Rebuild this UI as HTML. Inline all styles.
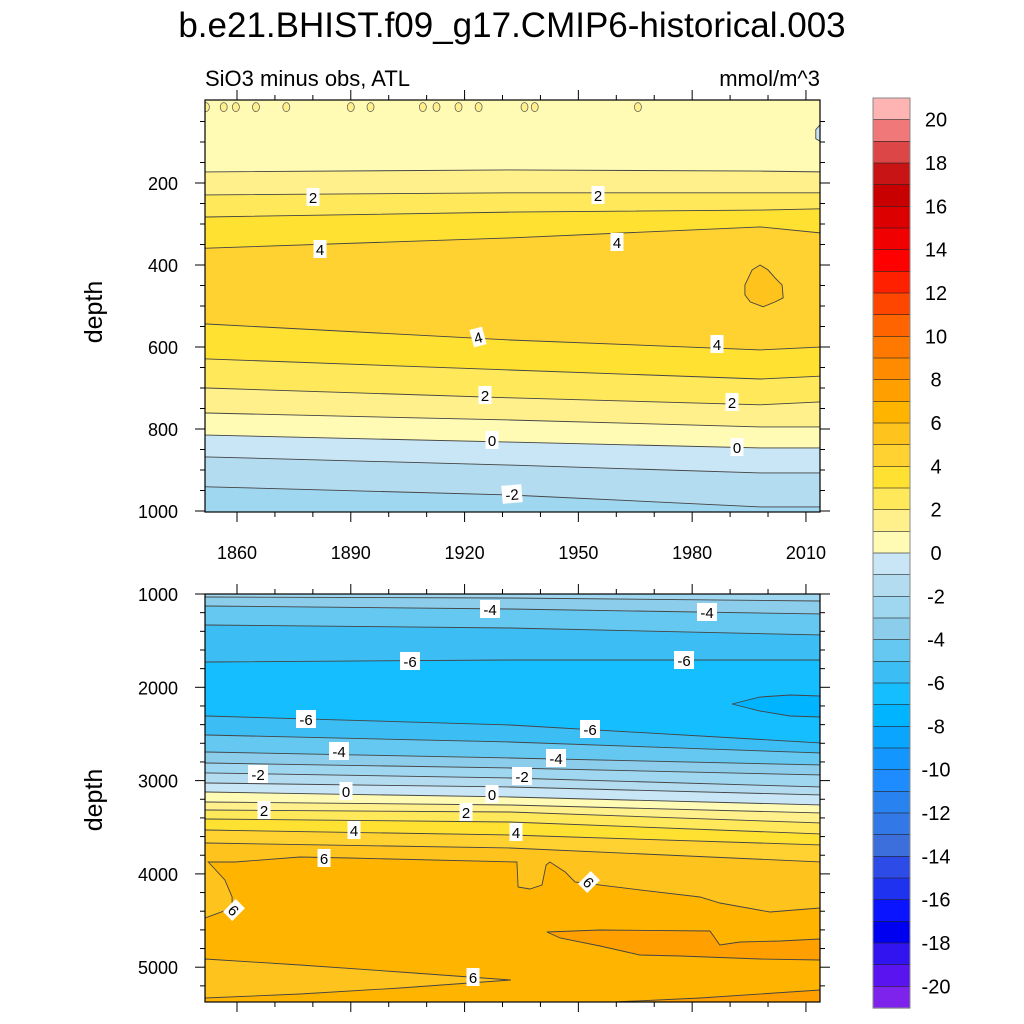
<!DOCTYPE html>
<html><head><meta charset="utf-8"><style>
body{margin:0;background:#fff;}
svg{display:block;font-family:"Liberation Sans",sans-serif;}
</style></head><body>
<svg id="chart" width="1024" height="1024" viewBox="0 0 1024 1024">
<defs>
<clipPath id="clipTop"><rect x="205" y="100" width="615" height="412"/></clipPath>
<clipPath id="clipBot"><rect x="205" y="594" width="615" height="408"/></clipPath>
</defs>
<text x="512" y="37" text-anchor="middle" font-size="35">b.e21.BHIST.f09_g17.CMIP6-historical.003</text>
<text x="205" y="86" font-size="22">SiO3 minus obs, ATL</text>
<text x="820" y="86" font-size="22" text-anchor="end">mmol/m^3</text>
<g id="topFill" clip-path="url(#clipTop)"></g>
<g id="botFill" clip-path="url(#clipBot)"></g>
<g id="labels"></g>
<g id="axes"></g>
<g id="cbar"></g>
<text transform="translate(102,312) rotate(-90)" text-anchor="middle" font-size="25">depth</text>
<text transform="translate(102,800) rotate(-90)" text-anchor="middle" font-size="25">depth</text>
</svg>
<script>
const NS="http://www.w3.org/2000/svg";
const cbColors=["#FFB4B4","#F07878","#DC4646","#C81414","#C80000","#DC0000","#F00000","#FF0000","#FF2000","#FF4600","#FF6400","#FF7800","#FF8C00","#FFA000","#FFB400","#FFC31E","#FFD232","#FFE132","#FFE95A","#FFF08C","#FFFAB4","#C8E6F5","#B4DCF0","#A0D7F0","#8CCDEB","#64C8F0","#3CBEF5","#14BEFF","#00B4FF","#0AA5FF","#1496FF","#1E8CFF","#2882F0","#3278E6","#3C6EDC","#2D4BE6","#1E32F0","#0A14FF","#0000F0","#3214F0","#5A14F0","#7D23EB"];
const cbLabels=[20,18,16,14,12,10,8,6,4,2,0,-2,-4,-6,-8,-10,-12,-14,-16,-18,-20];
function col(lo){return cbColors[20-lo];}

const topYears=[1852,1932,1998,2014];
const topTopBand=0;
const topLines=[
 {band:1,d:[173,168,171,173]},
 {band:2,d:[229,224,224,224]},
 {band:3,d:[283,271,266,263]},
 {band:4,d:[359,334,307,322]},
 {band:3,d:[544,583,607,600]},
 {band:2,d:[629,656,678,671]},
 {band:1,d:[700,724,741,734]},
 {band:0,d:[761,778,795,795]},
 {band:-1,d:[815,832,846,846]},
 {band:-2,d:[868,888,907,907]},
 {band:-3,d:[941,961,990,990]}
];
const topBlobYears=[1993.9,1995.8,1997.9,2000,2001.9,2003.7,2004,2001.9,1998.7,1995.3,1993.9];
const topBlobDepths=[449,412,400,412,432,449,480,490,502,490,473];
const topBlobBand=5;
const topSpotYears=[1851.8,1856.5,1859.7,1865,1873,1890,1895.2,1909,1912.6,1918.4,1923.7,1935.8,1938.5,1965.7];
const topSpotDepth=15;
const topCornerYears=[2013.7,2012.6,2012.6,2013.7];
const topCornerDepths=[58,70,92,98];

const botYears=[1852,1932,2014];
const botTopBand=-3;
const botLines=[
 {band:-4,d:[1032,1043,1075]},
 {band:-5,d:[1129,1161,1214]},
 {band:-6,d:[1332,1364,1439]},
 {band:-7,d:[1729,1707,1707]},
 {band:-6,d:[2308,2404,2597]},
 {band:-5,d:[2511,2586,2704]},
 {band:-4,d:[2693,2758,2833]},
 {band:-3,d:[2811,2865,2940]},
 {band:-2,d:[2918,2972,3069]},
 {band:-1,d:[3026,3069,3154]},
 {band:0,d:[3122,3176,3261]},
 {band:1,d:[3229,3261,3347]},
 {band:2,d:[3315,3337,3454]},
 {band:3,d:[3412,3444,3572]},
 {band:4,d:[3529,3583,3690]},
 {band:5,d:[3669,3722,3872]}
];
const six_Years=[1851.6,1858.7,1858.7,1856.8,1853.4,1852.4,1859.5,1876.6,1889.8,1933.8,1934.1,1937.2,1940.4,1941.5,1942.5,1944.1,1946.5,1949.1,1966.2,1982.1,1987.3,2000.5,2013.7];
const six_Depths=[4473,4365,4248,4065,3915,3872,3872,3819,3830,3872,4140,4162,4119,3905,3872,3915,3979,4087,4172,4248,4312,4408,4365];
const wedgeYears=[1851.6,1876.6,1903,1932.2,1903,1876.6,1851.6];
const wedgeDepths=[4912,4976,5051,5137,5223,5287,5330];
const hiBlobYears=[1941.7,1955.7,1984.7,1987.3,1992.6,2003.2,2008.4,2013.7,2013.7,1997.9,1976.8,1966.2,1955.7,1945.2];
const hiBlobDepths=[4623,4601,4612,4762,4730,4719,4708,4698,4923,4912,4880,4869,4773,4687];
const brYears=[1959.4,1982.1,2013.7,2013.7];
const brDepths=[5373,5330,5244,5373];
const lowBlobYears=[1990.5,1997.9,2005.8,2013.7,2013.7,2005.8,1997.9];
const lowBlobDepths=[2179,2104,2083,2093,2318,2308,2254];

function xS(y){return 237+(y-1860)*3.793;}
function yT(d){return 101+d*0.41;}
function yB(d){return 594+(d-1000)*0.0933;}

function mk(tag,attrs,parent){const e=document.createElementNS(NS,tag);for(const k in attrs)e.setAttribute(k,attrs[k]);parent.appendChild(e);return e;}
function pts(xs,ds,ys){return xs.map((x,i)=>xS(x).toFixed(1)+","+ys(ds[i]).toFixed(1));}

function drawPanel(g,years,lines,topBand,ys,bottomD){
 const bg=mk("rect",{x:205,y:ys(years===topYears?0:1000)-2,width:615,height:420,fill:col(topBand)},g);
 
 
 lines.forEach(L=>{
  const p=pts([1840].concat(years,[2030]),[L.d[0]].concat(L.d,[L.d[L.d.length-1]]),ys);
  const poly=mk("polygon",{points:p.join(" ")+" "+xS(2030)+","+(ys(bottomD)+10)+" "+xS(1840)+","+(ys(bottomD)+10),fill:col(L.band)},g);
  
  
 });
 lines.forEach(L=>{
  const pl=mk("polyline",{points:pts([1840].concat(years,[2030]),[L.d[0]].concat(L.d,[L.d[L.d.length-1]]),ys).join(" "),fill:"none",stroke:"#444",'stroke-width':0.9},g);
  
  
 });
}
function blob(g,xs,ds,ys,band){
 const e=mk("polygon",{points:pts(xs,ds,ys).join(" "),fill:col(band),stroke:"#444",'stroke-width':0.9},g);
 
 
 return e;
}
const gT=document.getElementById("topFill"),gB=document.getElementById("botFill");
drawPanel(gT,topYears,topLines,topTopBand,yT,1000);
blob(gT,topBlobYears,topBlobDepths,yT,topBlobBand);
blob(gT,topCornerYears,topCornerDepths,yT,-1);
topSpotYears.forEach(yr=>{
 const e=mk("ellipse",{cx:xS(yr),cy:yT(topSpotDepth),rx:3.5,ry:4.5,fill:col(1),stroke:"#555",'stroke-width':0.7},gT);
 
 
});
drawPanel(gB,botYears,botLines,botTopBand,yB,5375);
{const p=pts(six_Years,six_Depths,yB);
 const e=mk("polygon",{points:p.join(" ")+" 830,1010 205,1010",fill:col(6)},gB);
 
 
 const l=mk("polyline",{points:p.join(" "),fill:"none",stroke:"#444",'stroke-width':0.9},gB);
 
 }
blob(gB,wedgeYears,wedgeDepths,yB,5);
blob(gB,hiBlobYears,hiBlobDepths,yB,7);
blob(gB,brYears,brDepths,yB,7);
blob(gB,lowBlobYears,lowBlobDepths,yB,-8);

const lbl=document.getElementById("labels");
const labelsList=[["2",313,197,0],["2",598,195,0],["4",320,249,0],["4",617,242,0],["4",478,337,-15],["4",717,344,0],["2",485,395,0],["2",732,402,0],["0",492,440,0],["0",737,447,0],["-2",512,494,-5],
["-4",490,609,0],["-4",707,612,0],["-6",410,661,0],["-6",684,660,0],["-6",306,719,0],["-6",590,729,0],["-4",339,751,0],["-4",556,758,0],["-2",258,774,0],["-2",522,776,0],["0",346,791,0],["0",492,794,0],["2",264,810,0],["2",466,812,0],["4",354,830,0],["4",516,832,0],["6",324,858,0],["6",589,882,45],["6",234,910,45],["6",473,977,0]];
labelsList.forEach(([t,x,y,r])=>{
 const g=mk("g",{transform:`translate(${x},${y}) rotate(${r})`},lbl);
 
 
 const w=t.length>1?20:13;
 mk("rect",{x:-w/2,y:-9,width:w,height:18,fill:"#fff"},g);
 const tx=mk("text",{x:0,y:6,'text-anchor':'middle','font-size':15},g);tx.textContent=t;
});

const ax=document.getElementById("axes");
function line(x1,y1,x2,y2,w){mk("line",{x1,y1,x2,y2,stroke:"#000",'stroke-width':w||1},ax);}
function txt(s,x,y,anchor,name){const t=mk("text",{x,y,'text-anchor':anchor,'font-size':18},ax);t.textContent=s;}
function frame(x,y,w,h){mk("rect",{x,y,width:w,height:h,fill:"none",stroke:"#000",'stroke-width':1.2},ax);}
frame(205,100,615,412);frame(205,594,615,408);
const xMajor=[1860,1890,1920,1950,1980,2010];
for(let yr=1860;yr<=2010;yr+=10){
 const x=xS(yr),maj=xMajor.includes(yr),L=maj?10:5;
 [[100,-1],[512,1],[594,-1],[1002,1]].forEach(([y0,s])=>line(x,y0,x,y0+s*L));
}
xMajor.forEach(yr=>txt(String(yr),xS(yr),559,"middle","x-tick-label"));
for(let d=50;d<=1000;d+=50){const y=yT(d),maj=d%200==0,L=maj?10:5;line(205,y,205-L,y);line(820,y,820+L,y);}
[200,400,600,800,1000].forEach(d=>txt(String(d),178,yT(d)+7,"end","top-y-tick-label"));
for(let d=1000;d<=5375;d+=200){const y=yB(d),maj=d%1000==0,L=maj?10:5;line(205,y,205-L,y);line(820,y,820+L,y);}
[1000,2000,3000,4000,5000].forEach(d=>txt(String(d),178,yB(d)+7,"end","bottom-y-tick-label"));

const cb=document.getElementById("cbar");
const h=910/42;
cbColors.forEach((c,i)=>{
 const r=mk("rect",{x:873,y:98+i*h,width:37,height:h+0.3,fill:c,stroke:"#222",'stroke-width':0.6},cb);
 
 
});
mk("rect",{x:873,y:98,width:37,height:910,fill:"none",stroke:"#888",'stroke-width':1},cb);
cbLabels.forEach(v=>{
 const t=mk("text",{x:936,y:98+(21-v)*h+7,'text-anchor':'middle','font-size':20},cb);
 t.textContent=String(v);
 
 
});
</script>
</body></html>
